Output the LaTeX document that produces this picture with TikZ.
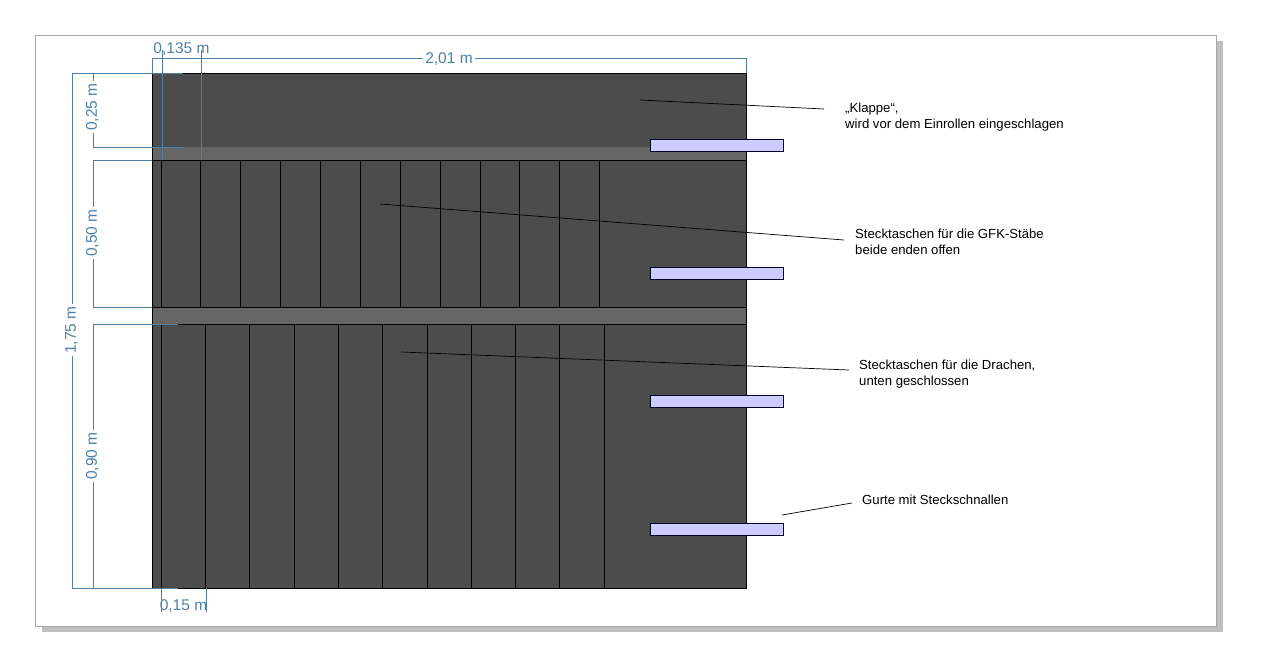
\documentclass[tikz,border=0pt]{standalone}
\usepackage{fontspec}
\setmainfont{Liberation Sans}
\definecolor{dimblue}{HTML}{4F80A8}
\definecolor{clothdark}{HTML}{4C4C4C}
\definecolor{clothband}{HTML}{666666}
\definecolor{strapfill}{HTML}{CCCCFF}

\tikzset{
  dimline/.style={draw=dimblue, line width=0.8pt},
  dimlabel/.style={text=dimblue, font=\fontsize{15.5}{16}\selectfont, inner sep=2.5pt},
  dimgap/.style={dimlabel, fill=white, rotate=90},
  pocketline/.style={black, line width=0.9pt},
  strap/.style={draw=black!85!blue, fill=strapfill, line width=0.8pt},
  leader/.style={black, line width=0.7pt},
  note/.style={font=\fontsize{13.15}{16}\selectfont, align=left, anchor=west, inner sep=0pt},
}

\begin{document}
\begin{tikzpicture}[x=1pt, y=-1pt]
  \useasboundingbox (0, 0) rectangle (1261, 661);

  % page with shadow
  \fill[black!25] (41.5, 41.5) rectangle (1222.5, 631.5);
  \draw[fill=white, draw=black!35, line width=1pt] (35.5, 35.5) rectangle (1216.5, 626.5);

  % cloth
  \draw[fill=clothdark, line width=0.9pt] (152, 73) rectangle (746, 588);
  \draw[fill=clothband, draw=none] (152.5, 147) rectangle (745.5, 160);
  \draw[fill=clothband, draw=none] (152.5, 307) rectangle (745.5, 324);
  \draw[pocketline] (152, 160) -- (746, 160);
  \draw[pocketline] (152, 307) -- (746, 307);
  \draw[pocketline] (152, 324) -- (746, 324);

  % pockets
  \foreach \px in {162, 201, 241, 281, 321, 361, 401, 441, 481, 520, 560, 600}
    \draw[pocketline] (\px-0.3, 160) -- (\px-0.3, 307);
  \foreach \px in {162, 206, 250, 295, 339, 383, 428, 472, 516, 560, 605}
    \draw[pocketline] (\px-0.3, 324) -- (\px-0.3, 588);

  % straps
  \foreach \py in {139, 267, 395, 523}
    \draw[strap] (650, \py) rectangle (783, \py+12);

  % dimensions
  \draw[dimline] (152, 73) -- (152, 58) -- (746, 58) -- (746, 73);
  \node[dimlabel, fill=white] (dimwidth) at (449, 59) {2,01 m};
  \draw[dimline] (162, 50) -- (162, 160);
  \draw[dimline] (201, 50) -- (201, 160);
  \node[dimlabel] (dimflapgap) at (181.5, 49) {0,135 m};
  \draw[dimline] (183, 73) -- (72, 73) -- (72, 588) -- (178, 588);
  \node[dimgap] (dimtotal) at (71.5, 330) {1,75 m};
  \draw[dimline] (183, 73) -- (93, 73) -- (93, 147) -- (183, 147);
  \node[dimgap] (dimflap) at (92.5, 107) {0,25 m};
  \draw[dimline] (152, 160) -- (93, 160) -- (93, 307) -- (152, 307);
  \node[dimgap] (dimrods) at (92.5, 233) {0,50 m};
  \draw[dimline] (178, 324) -- (93, 324) -- (93, 588);
  \node[dimgap] (dimkites) at (92.5, 456) {0,90 m};
  \draw[dimline] (161, 588) -- (161, 612);
  \draw[dimline] (206, 588) -- (206, 612);
  \node[dimlabel] (dimkitegap) at (183.5, 606.5) {0,15 m};

  % notes
  \node[note] (klappe) at (845, 117) {„Klappe“,\\wird vor dem Einrollen eingeschlagen};
  \node[note] (staebe) at (855, 242) {Stecktaschen für die GFK-Stäbe\\beide enden offen};
  \node[note] (drachen) at (859, 374.5) {Stecktaschen für die Drachen,\\unten geschlossen};
  \node[note] (gurte) at (862, 499.5) {Gurte mit Steckschnallen};

  % leaders
  \coordinate (klappefrom) at (640, 100);
  \coordinate (klappeto) at (824, 109);
  \coordinate (staebefrom) at (380, 204);
  \coordinate (staebeto) at (844, 240);
  \coordinate (drachenfrom) at (401, 352);
  \coordinate (drachento) at (849, 370);
  \coordinate (gurtefrom) at (782, 515);
  \coordinate (gurteto) at (852, 503);
  \draw[leader] (klappefrom) -- (klappeto);
  \draw[leader] (staebefrom) -- (staebeto);
  \draw[leader] (drachenfrom) -- (drachento);
  \draw[leader] (gurtefrom) -- (gurteto);
\end{tikzpicture}
\end{document}
